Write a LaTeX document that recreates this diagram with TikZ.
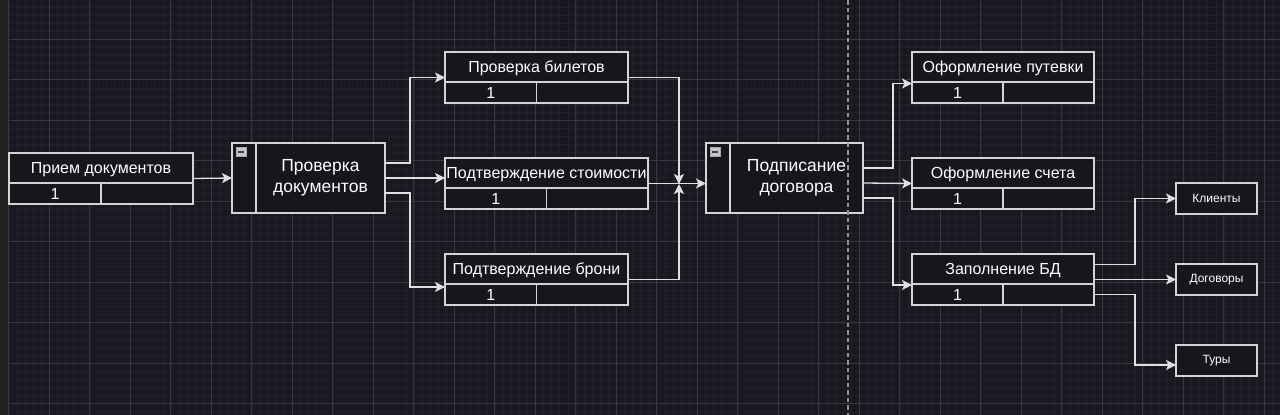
\documentclass[tikz,border=0pt]{standalone}
\usepackage{fontspec}
\setmainfont{Liberation Sans}
\usetikzlibrary{arrows.meta}
\usetikzlibrary{positioning}
\definecolor{bgdark}{HTML}{1A1720}
\definecolor{gridminor}{HTML}{221F29}
\definecolor{gridmajor}{HTML}{393640}
\definecolor{panel}{HTML}{1F2221}
\definecolor{boxfill}{HTML}{18151D}
\definecolor{edge}{HTML}{D4D4D4}
\definecolor{wire}{HTML}{E0E0E0}
\tikzset{flow/.style = {draw=wire, line width=1.3pt,
                        -{Stealth[length=10pt, width=10pt, inset=2.5pt]}}}
\tikzset{cell/.style = {draw=edge, fill=boxfill, line width=1.3pt, rectangle,
                        inner sep=0, outer sep=0, text=white}}
\tikzset{taskhead/.style = {cell, minimum height=30pt, text depth=1pt,
                            font=\fontsize{16}{19}\selectfont}}
\tikzset{taskrow/.style = {cell, minimum height=21pt, font=\fontsize{16}{19}\selectfont}}
\tikzset{procbox/.style = {cell, minimum height=70pt, align=center,
                           font=\fontsize{17.5}{21}\selectfont}}
\tikzset{entity/.style = {cell, minimum width=81pt, minimum height=31pt,
                          font=\fontsize{12}{14}\selectfont}}
\tikzset{icon/.style = {draw=gray!70, fill=gray!45, line width=0.6pt, rectangle,
                        inner sep=0, minimum width=10pt, minimum height=9pt,
                        path picture={\fill [black!75]
                          ([xshift=2pt, yshift=-1pt]path picture bounding box.west) rectangle
                          ([xshift=-2pt, yshift=1pt]path picture bounding box.east);}}}
\tikzset{divider/.style = {draw=gray!85, line width=2pt, dash pattern=on 4.5pt off 3pt}}
% task box: name, x, y, width, title
\newcommand{\taskbox}[5]{%
  \node [cell, minimum width=#4pt, minimum height=51pt, anchor=north west] (#1) at (#2, #3) {};
  \node [taskhead, minimum width=#4pt, anchor=north west] (#1-t) at (#1.north west) {#5};
  \node [taskrow, minimum width=#4pt/2, anchor=north west] (#1-n) at (#1-t.south west) {1};
  \node [taskrow, minimum width=#4pt/2, anchor=north west] (#1-e) at (#1-n.north east) {};
}
% process box: name, x, y, width, text
\newcommand{\procnode}[5]{%
  \node [cell, minimum width=24pt, minimum height=70pt, anchor=north west] (#1-s) at (#2, #3) {};
  \node [procbox, minimum width=#4pt, anchor=north west] (#1) at (#1-s.north east) {#5};
  \node [icon, anchor=north west] (#1-i) at ([xshift=4pt, yshift=-4pt]#1-s.north west) {};
}

\begin{document}
\begin{tikzpicture}[x=1pt, y=-1pt]
  \useasboundingbox (0, 0) rectangle (1280, 415);
  \fill [bgdark] (0, 0) rectangle (1280, 415);
  \fill [panel] (0, 0) rectangle (9, 415);
  % grid
  \foreach \i in {0,...,157}
    \draw [gridminor, line width=0.8pt] ({9 + \i*8.1}, 0) -- ++(0, 415);
  \foreach \j in {0,...,51}
    \draw [gridminor, line width=0.8pt] (9, {-1.2 + \j*8.1}) -- (1280, {-1.2 + \j*8.1});
  \foreach \i in {0,...,31}
    \draw [gridmajor, line width=0.9pt] ({8.8 + \i*40.5}, 0) -- ++(0, 415);
  \foreach \j in {1,...,10}
    \draw [gridmajor, line width=0.9pt] (9, {-1.2 + \j*40.5}) -- (1280, {-1.2 + \j*40.5});

  % boxes
  \taskbox{priem}{9}{153}{184}{Прием документов}
  \procnode{proverka}{232}{143}{129}{Проверка\\документов}
  \taskbox{bilet}{445}{52}{183}{Проверка билетов}
  \taskbox{stoim}{445}{158}{203}{Подтверждение стоимости}
  \taskbox{bron}{445}{254}{183}{Подтверждение брони}
  \procnode{podpis}{706}{143}{133}{Подписание\\договора}
  \taskbox{putevka}{912}{52}{182}{Оформление путевки}
  \taskbox{schet}{912}{158}{182}{Оформление счета}
  \taskbox{bd}{912}{254}{182}{Заполнение БД}
  \node [entity, anchor=north west] (klienty) at (1176, 183) {Клиенты};
  \node [entity, anchor=north west] (dogovory) at (1176, 264) {Договоры};
  \node [entity, anchor=north west] (tury) at (1176, 345) {Туры};

  % connectors
  \draw [flow] (priem.east) -- (proverka-s.west);
  \draw [flow] ([yshift=15pt]proverka.east) -- ++(25, 0) |- (bilet.west);
  \draw [flow] (proverka.east) -- (stoim.west |- proverka.east);
  \draw [flow] ([yshift=-15pt]proverka.east) -- ++(25, 0) |- ([yshift=-7.5pt]bron.west);
  \coordinate (join) at (679, 184);
  \draw [flow] (bilet.east) -| (join);
  \draw [flow] (bron.east) -| (join);
  \draw [flow] (stoim.east) -- (podpis-s.west |- stoim.east);
  \draw [flow] ([yshift=10pt]podpis.east) -- ++(30, 0) |- ([yshift=-6pt]putevka.west);
  \draw [flow] ([yshift=-5pt]podpis.east) -- (schet.west);
  \draw [flow] ([yshift=-20pt]podpis.east) -- ++(30, 0) |- ([yshift=-5.5pt]bd.west);
  \draw [flow] ([yshift=15pt]bd.east) -- ++(41, 0) |- (klienty.west);
  \draw [flow] (bd.east) -- (dogovory.west);
  \draw [flow] ([yshift=-15pt]bd.east) -- ++(41, 0) |- ([yshift=-4.5pt]tury.west);

  % boundary
  \coordinate (cut-top) at (848, 0);
  \coordinate (cut-bot) at (848, 415);
  \draw [divider] (cut-top) -- (cut-bot);
\end{tikzpicture}
\end{document}
